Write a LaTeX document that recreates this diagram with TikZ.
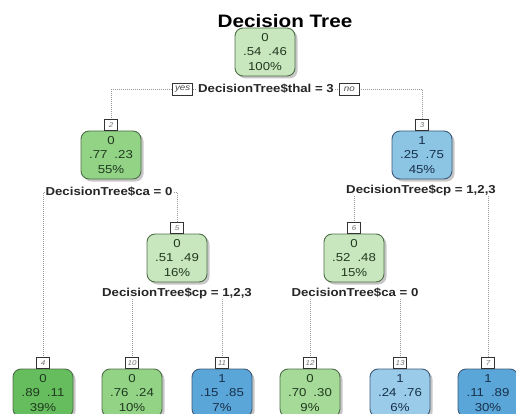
\documentclass[tikz,border=0pt]{standalone}
\usepackage{fontspec}
\setmainfont{Liberation Sans}[FakeStretch=1.15]
\usetikzlibrary{positioning,shadows,backgrounds}

\definecolor{gnedge}{HTML}{4E6E48}
\definecolor{buedge}{HTML}{3D5A78}
\definecolor{gntext}{HTML}{1F3A1F}
\definecolor{butext}{HTML}{17304A}
\definecolor{gnpale}{HTML}{C9E7BF}
\definecolor{gnmid}{HTML}{93D386}
\definecolor{gnlight}{HTML}{A6DA98}
\definecolor{gndark}{HTML}{66BD5E}
\definecolor{bulight}{HTML}{9ACCE9}
\definecolor{bumid}{HTML}{8CC4E4}
\definecolor{budark}{HTML}{5BA6D8}

\tikzset{
	tnode/.style={rectangle, rounded corners=8pt, line width=0.9pt,
		minimum width=60pt, minimum height=48pt, inner sep=0pt, align=center,
		font=\fontsize{11.5}{14.2}\selectfont,
		drop shadow={shadow xshift=2.5pt, shadow yshift=-2.5pt, fill=black!40, opacity=.55}},
	gnbox/.style={tnode, draw=gnedge, fill=#1, text=gntext},
	bubox/.style={tnode, draw=buedge, fill=#1, text=butext},
	numbox/.style={draw=black!80, fill=white, line width=0.6pt, minimum width=13pt,
		minimum height=10.5pt, inner sep=0pt, text=black!55,
		font=\fontsize{7}{7}\selectfont\itshape},
	split/.style={fill=white, inner sep=1pt, text=black!85,
		font=\fontsize{11.5}{12}\selectfont\bfseries},
	yesno/.style={draw=black!80, fill=white, line width=0.6pt, inner sep=1.5pt,
		minimum height=12pt, minimum width=20pt, text=black!70,
		font=\fontsize{8.5}{9}\selectfont\itshape},
	branch/.style={draw=black!40, line width=0.9pt, dash pattern=on 0.8pt off 1.2pt}
}

\begin{document}
\begin{tikzpicture}[x=1pt, y=-1pt]
		\useasboundingbox (0,0) rectangle (516,414);
		% Draw the tree nodes
		\node[gnbox=gnpale] (n1) at (265,52) {0\\.54\hspace{7pt}.46\\100\%};
		\node[gnbox=gnmid] (n2) at (111,155) {0\\.77\hspace{7pt}.23\\55\%};
		\node[bubox=bumid] (n3) at (422,155) {1\\.25\hspace{7pt}.75\\45\%};
		\node[gnbox=gnpale] (n5) at (177,258) {0\\.51\hspace{7pt}.49\\16\%};
		\node[gnbox=gnpale] (n6) at (354,258) {0\\.52\hspace{7pt}.48\\15\%};
		\node[gnbox=gndark] (n4) at (43,393) {0\\.89\hspace{7pt}.11\\39\%};
		\node[gnbox=gnmid] (n10) at (132,393) {0\\.76\hspace{7pt}.24\\10\%};
		\node[bubox=budark] (n11) at (222,393) {1\\.15\hspace{7pt}.85\\7\%};
		\node[gnbox=gnlight] (n12) at (310,393) {0\\.70\hspace{7pt}.30\\9\%};
		\node[bubox=bulight] (n13) at (400,393) {1\\.24\hspace{7pt}.76\\6\%};
		\node[bubox=budark] (n7) at (488,393) {1\\.11\hspace{7pt}.89\\30\%};
		\foreach \n in {2,3,4,5,6,7,10,11,12,13}
			\node[numbox, above=0pt of n\n] (l\n) {\n};

		% Split labels
		\node[split] (s1) at (266,89) {DecisionTree\$thal = 3};
		\node[yesno, left=4pt of s1] (yes) {yes};
		\node[yesno, right=4pt of s1] (no) {no};
		\node[split] (s2) at (109,192) {DecisionTree\$ca = 0};
		\node[split] (s3) at (421,190) {DecisionTree\$cp = 1,2,3};
		\node[split] (s5) at (177,293) {DecisionTree\$cp = 1,2,3};
		\node[split] (s6) at (355,293) {DecisionTree\$ca = 0};

		\begin{scope}[on background layer]
			\foreach \p/\a/\b in {1/2/3, 2/4/5, 3/6/7, 5/10/11, 6/12/13}
				\draw[branch] (l\a.north) |- (s\p.center) -| (l\b.north);
		\end{scope}

		\node[font=\fontsize{18}{20}\selectfont\bfseries] (title) at (285,21) {Decision Tree};
	\end{tikzpicture}
\end{document}
